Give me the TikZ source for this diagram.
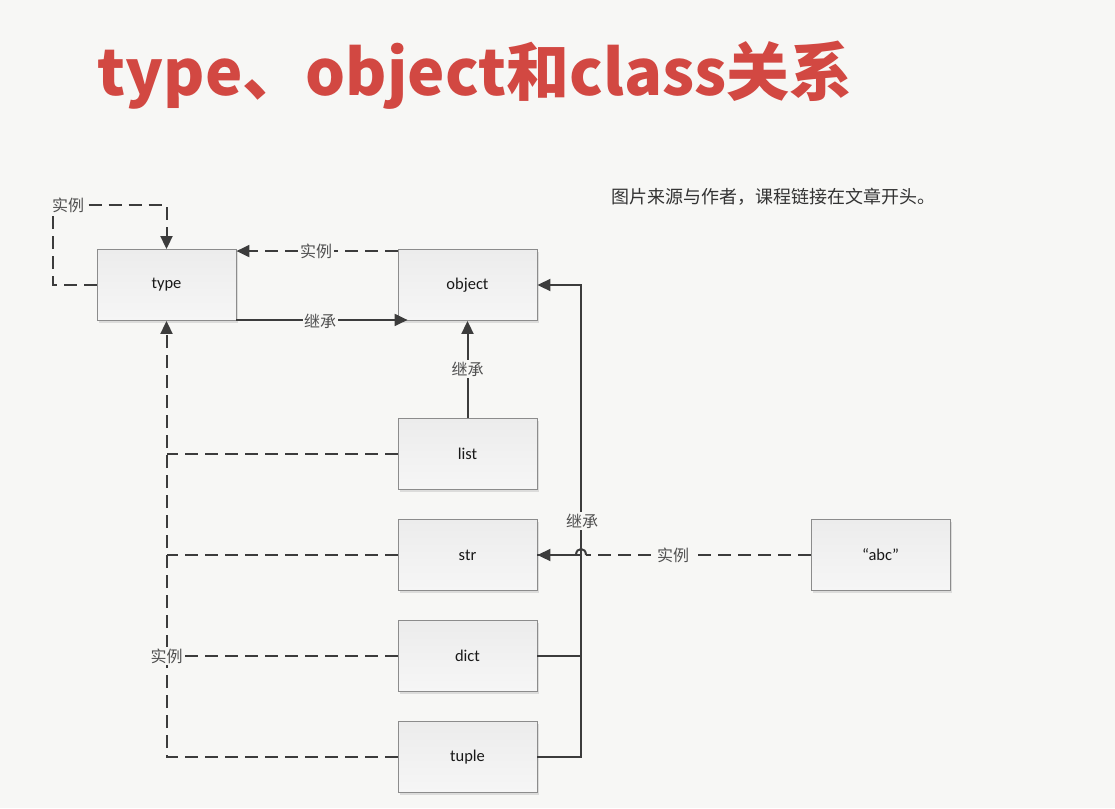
\documentclass[tikz,border=0pt]{standalone}
\usepackage{fontspec}
\setmainfont{Carlito}
\newfontfamily\cjk{Noto Sans CJK SC}
\usetikzlibrary{arrows.meta,shadows}
\definecolor{bg}{RGB}{247,247,245}
\definecolor{ln}{RGB}{60,60,60}
\definecolor{ttl}{RGB}{210,72,66}
\definecolor{lbl}{RGB}{80,80,80}
\definecolor{boxtop}{RGB}{236,236,236}
\definecolor{boxbot}{RGB}{246,246,246}
\begin{document}
\begin{tikzpicture}[x=1pt,y=-1pt,
  box/.style={draw=black!45, line width=0.9pt, top color=boxtop, bottom color=boxbot,
    minimum width=139pt, minimum height=71pt, inner sep=0pt,
    font=\fontsize{16.5}{16.5}\selectfont, text=black!90,
    drop shadow={opacity=0.22, shadow xshift=2pt, shadow yshift=-2pt}},
  solidln/.style={draw=ln, line width=2pt},
  dsh/.style={draw=ln, line width=2pt, dash pattern=on 13pt off 7pt},
  arr/.style={-{Triangle[length=13pt,width=12pt]}},
  lab/.style={fill=bg, font=\cjk\fontsize{16}{16}\selectfont, text=lbl, inner sep=1.5pt}
]
\useasboundingbox (0,0) rectangle (1115,808);
\fill[bg] (0,0) rectangle (1115,808);

% title and note
\node[font=\cjk\bfseries\fontsize{63}{63}\selectfont, text=ttl] (title) at (475,75) {type、object和class关系};
\node[anchor=west, font=\cjk\fontsize{18}{18}\selectfont, text=black!80, inner sep=0pt] (note) at (611,197) {图片来源与作者，课程链接在文章开头。};

% boxes
\node[box] (type)   at (166.5,285) {type};
\node[box] (object) at (467.5,285) {object};
\node[box] (list)   at (467.5,454) {list};
\node[box] (str)    at (467.5,555) {str};
\node[box] (dict)   at (467.5,656) {dict};
\node[box] (tuple)  at (467.5,757) {tuple};
\node[box] (abc)    at (880.5,555) {“abc”};

\coordinate (rail) at (581,285);
\coordinate (hopR) at (586,555);
\coordinate (hopL) at (576,555);

% type self instance loop
\draw[dsh,arr] (type.west) -- ++(-44,0) |- ([yshift=44pt]type.north) -- (type.north);
\node[lab] (l1) at (68,205) {实例};

% object instance of type
\draw[dsh,arr] ([yshift=-2pt]object.north west) -- ([yshift=-2pt]type.north east);
\node[lab] (l2) at (316,251) {实例};

% type inherits object
\draw[solidln,arr] ([yshift=1pt]type.south east) -- ([xshift=10pt,yshift=1pt]object.south west);
\node[lab] (l3) at (320,321) {继承};

% list inherits object
\draw[solidln,arr] (list.north) -- (object.south);
\node[lab] (l4) at (467.5,369) {继承};

% rail from str/dict/tuple to object
\draw[solidln,arr] (tuple.east) -| (rail) -- (object.east);
\draw[solidln] (dict.east) -- (dict.east -| rail);
\draw[solidln] (str.east) -- (str.east -| rail);
\node[lab] (l5) at (582,521) {继承};

% "abc" instance of str
\draw[dsh] (abc.west) -- (hopR);
\draw[solidln] (hopR) .. controls ([yshift=8pt]hopR) and ([yshift=8pt]hopL) .. (hopL);
\draw[solidln,arr] (hopL) -- (str.east);
\node[lab] (l6) at (673,555) {实例};

% instances of type
\draw[dsh,arr] (tuple.west) -| (type.south);
\draw[dsh] (list.west) -- (list.west -| type.south);
\draw[dsh] (str.west) -- (str.west -| type.south);
\draw[dsh] (dict.west) -- (dict.west -| type.south);
\node[lab] (l7) at (166.5,656) {实例};
\end{tikzpicture}
\end{document}
